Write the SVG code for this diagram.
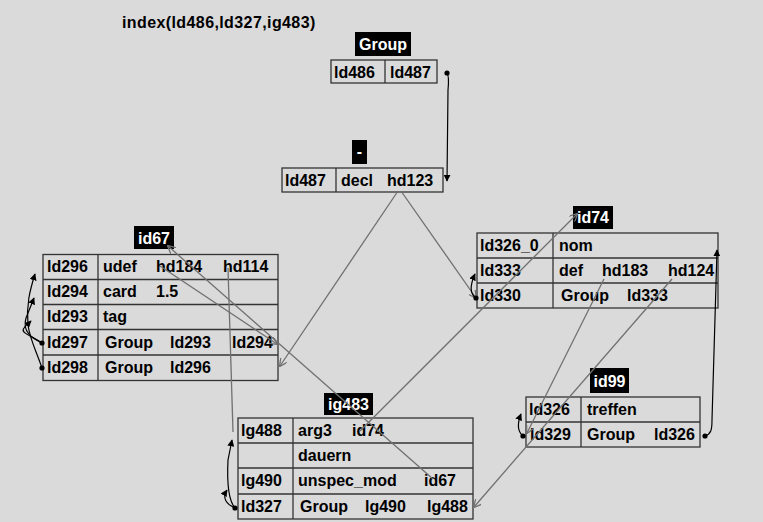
<svg xmlns="http://www.w3.org/2000/svg" width="763" height="522" viewBox="0 0 763 522">
<style>
.t{font-family:"Liberation Sans",Arial,sans-serif;font-weight:bold;font-size:16px;fill:#000}
.w{fill:#fff;text-anchor:middle}
.box{fill:#000}
.cell{fill:none;stroke:#333;stroke-width:1.3}
.g{fill:none;stroke:#707070;stroke-width:1.3}
.k{fill:none;stroke:#000;stroke-width:1.2}
</style>
<defs>
<marker id="ga" viewBox="0 0 10 10" refX="9" refY="5" markerWidth="8" markerHeight="8" orient="auto" markerUnits="userSpaceOnUse">
<path d="M0,0 L10,5 L0,10" fill="none" stroke="#707070" stroke-width="1.6"/>
</marker>
<marker id="ka" viewBox="0 0 10 10" refX="9" refY="5" markerWidth="7" markerHeight="7" orient="auto" markerUnits="userSpaceOnUse">
<path d="M0,0 L10,5 L0,10 z" fill="#000"/>
</marker>
</defs>
<rect width="763" height="522" fill="#dadada"/>
<text class="t" x="122" y="28" letter-spacing="0.4">index(ld486,ld327,ig483)</text>

<g id="node-group">
<rect class="box" x="355" y="32" width="56" height="24"/>
<text class="t w" x="383" y="50">Group</text>
<rect class="cell" x="331" y="60" width="106" height="23"/>
<line class="cell" x1="385" y1="60" x2="385" y2="83"/>
<text class="t" x="334" y="77.5">ld486</text>
<text class="t" x="390" y="77.5">ld487</text>
</g>

<g id="node-dash">
<rect class="box" x="352" y="140" width="15" height="24"/>
<text class="t w" x="359.5" y="157">-</text>
<rect class="cell" x="282" y="168" width="161" height="24"/>
<line class="cell" x1="336" y1="168" x2="336" y2="192"/>
<text class="t" x="285" y="186">ld487</text>
<text class="t" x="341" y="186">decl</text>
<text class="t" x="387" y="186">hd123</text>
</g>

<g id="node-id67">
<rect class="box" x="134" y="226" width="40" height="23"/>
<text class="t w" x="154" y="244">id67</text>
<rect class="cell" x="43" y="254.5" width="235" height="126"/>
<line class="cell" x1="43" y1="279.5" x2="278" y2="279.5"/>
<line class="cell" x1="43" y1="304.5" x2="278" y2="304.5"/>
<line class="cell" x1="43" y1="329.5" x2="278" y2="329.5"/>
<line class="cell" x1="43" y1="355" x2="278" y2="355"/>
<line class="cell" x1="98" y1="254.5" x2="98" y2="380.5"/>
<text class="t" x="47" y="272">ld296</text>
<text class="t" x="103" y="272">udef</text>
<text class="t" x="156" y="272">hd184</text>
<text class="t" x="223" y="272">hd114</text>
<text class="t" x="47" y="297">ld294</text>
<text class="t" x="103" y="297">card</text>
<text class="t" x="156" y="297">1.5</text>
<text class="t" x="47" y="322">ld293</text>
<text class="t" x="103" y="322">tag</text>
<text class="t" x="47" y="347.5">ld297</text>
<text class="t" x="105" y="347.5">Group</text>
<text class="t" x="170" y="347.5">ld293</text>
<text class="t" x="232" y="347.5">ld294</text>
<text class="t" x="47" y="373">ld298</text>
<text class="t" x="105" y="373">Group</text>
<text class="t" x="170" y="373">ld296</text>
</g>

<g id="node-id74">
<rect class="box" x="573" y="206" width="40" height="23"/>
<text class="t w" x="593" y="223">id74</text>
<rect class="cell" x="477" y="233" width="241" height="75"/>
<line class="cell" x1="477" y1="258" x2="718" y2="258"/>
<line class="cell" x1="477" y1="283" x2="718" y2="283"/>
<line class="cell" x1="553" y1="233" x2="553" y2="308"/>
<text class="t" x="480" y="250.5">ld326_0</text>
<text class="t" x="559" y="250.5">nom</text>
<text class="t" x="480" y="275.5">ld333</text>
<text class="t" x="559" y="275.5">def</text>
<text class="t" x="602" y="275.5">hd183</text>
<text class="t" x="668" y="275.5">hd124</text>
<text class="t" x="480" y="300.5">ld330</text>
<text class="t" x="561" y="300.5">Group</text>
<text class="t" x="627" y="300.5">ld333</text>
</g>

<g id="node-id99">
<rect class="box" x="590" y="368" width="39" height="25"/>
<text class="t w" x="609.5" y="387">id99</text>
<rect class="cell" x="526" y="397" width="174" height="50"/>
<line class="cell" x1="526" y1="422" x2="700" y2="422"/>
<line class="cell" x1="581" y1="397" x2="581" y2="447"/>
<text class="t" x="529" y="414.5">ld326</text>
<text class="t" x="587" y="414.5">treffen</text>
<text class="t" x="530" y="440">ld329</text>
<text class="t" x="587" y="440">Group</text>
<text class="t" x="654" y="440">ld326</text>
</g>

<g id="node-ig483">
<rect class="box" x="324" y="393" width="49" height="22"/>
<text class="t w" x="348.5" y="410">ig483</text>
<rect class="cell" x="238" y="418" width="235" height="101"/>
<line class="cell" x1="238" y1="443" x2="473" y2="443"/>
<line class="cell" x1="238" y1="468" x2="473" y2="468"/>
<line class="cell" x1="238" y1="494" x2="473" y2="494"/>
<line class="cell" x1="293" y1="418" x2="293" y2="519"/>
<text class="t" x="241" y="436">lg488</text>
<text class="t" x="298" y="436">arg3</text>
<text class="t" x="352" y="436">id74</text>
<text class="t" x="298" y="461">dauern</text>
<text class="t" x="241" y="486">lg490</text>
<text class="t" x="298" y="486">unspec_mod</text>
<text class="t" x="424" y="486">id67</text>
<text class="t" x="241" y="511.5">ld327</text>
<text class="t" x="300" y="511.5">Group</text>
<text class="t" x="365" y="511.5">lg490</text>
<text class="t" x="427" y="511.5">lg488</text>
</g>

<g id="connectors">
<line class="g" x1="398" y1="191" x2="280" y2="366" marker-end="url(#ga)"/>
<line class="g" x1="401" y1="191" x2="476" y2="298" marker-end="url(#ga)"/>
<line class="g" x1="360" y1="431" x2="577" y2="214" marker-end="url(#ga)"/>
<line class="g" x1="433" y1="479" x2="168" y2="246" marker-end="url(#ga)"/>
<line class="g" x1="160" y1="266" x2="277" y2="344" marker-end="url(#ga)"/>
<line class="g" x1="228" y1="268" x2="233" y2="432"/>
<line class="g" x1="604" y1="279" x2="527" y2="433" marker-end="url(#ga)"/>
<line class="g" x1="672" y1="279" x2="474" y2="507" marker-end="url(#ga)"/>

<circle cx="447" cy="73" r="2.6" fill="#000"/>
<path class="k" d="M447,73 C449,76 449,80 448,90 L447,181" marker-end="url(#ka)"/>
<circle cx="705" cy="436" r="2.6" fill="#000"/>
<path class="k" d="M705,436 C711,434 712,430 712,420 L717,250" marker-end="url(#ka)"/>
<circle cx="476" cy="298" r="2.6" fill="#000"/>
<path class="k" d="M476,298 C470,294 470,285 475,274" marker-end="url(#ka)"/>
<circle cx="523" cy="436" r="2.6" fill="#000"/>
<path class="k" d="M523,436 C517,431 517,424 521,414" marker-end="url(#ka)"/>
<circle cx="42" cy="343" r="2.6" fill="#000"/>
<path class="k" d="M42,343 C30,335 20,333 24,328 C26,325 28,324 31,321" marker-end="url(#ka)"/>
<path class="k" d="M42,343 C32,338 22,332 26,318 L34,298" marker-end="url(#ka)"/>
<circle cx="42" cy="368" r="2.6" fill="#000"/>
<path class="k" d="M42,368 C36,350 30,340 28,325 C26,305 30,290 35,274" marker-end="url(#ka)"/>
<circle cx="235" cy="508" r="2.6" fill="#000"/>
<path class="k" d="M235,508 C228,500 227,480 228,460 L232,440" marker-end="url(#ka)"/>
<path class="k" d="M235,508 C226,504 222,498 227,490" marker-end="url(#ka)"/>
</g>
</svg>
